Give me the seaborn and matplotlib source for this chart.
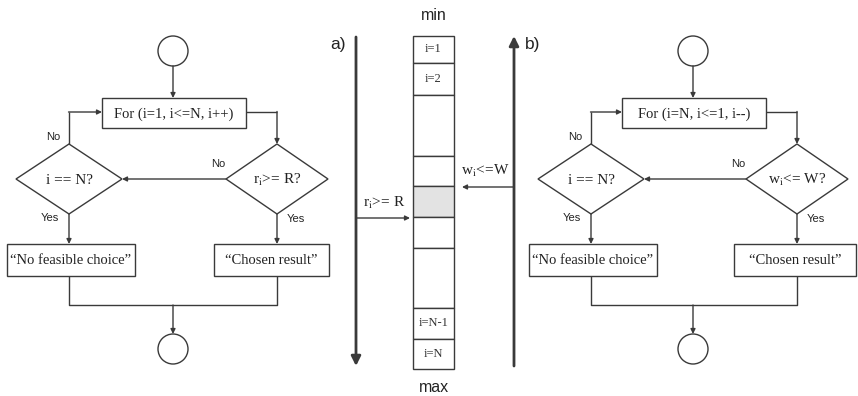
import matplotlib
matplotlib.use("Agg")
import matplotlib.pyplot as plt
import seaborn as sns
from matplotlib.patches import Rectangle, Polygon, Circle

sns.set_style("white")
plt.rcParams["font.family"] = ["Liberation Serif", "DejaVu Serif"]
plt.rcParams["mathtext.fontset"] = "stix"

# texts of the two flowcharts
loop_labels = ["For (i=1, i<=N, i++)", "For (i=N, i<=1, i--)"]
test_labels = [r"r$_\mathrm{i}$>= R?", r"w$_\mathrm{i}$<= W?"]
end_test_label = "i == N?"
fail_label = "\u201cNo feasible choice\u201d"
ok_label = "\u201cChosen result\u201d"
panel_labels = ["a)", "b)"]
arrow_labels = [r"r$_\mathrm{i}$>= R", r"w$_\mathrm{i}$<=W"]

# sorted list in the middle
cell_labels = ["i=1", "i=2", "", "", "", "", "", "i=N-1", "i=N"]
cell_edges = [36, 63, 95, 156, 186, 217, 248, 308, 339, 369]
chosen_cell = 4

ink = "#3a3a3a"
sans = ["Liberation Sans", "DejaVu Sans"]

fig = plt.figure(figsize=(8.58, 3.96), dpi=100)
ax = fig.add_axes([0, 0, 1, 1])
ax.set_xlim(0, 858)
ax.set_ylim(396, 0)
ax.axis("off")


def line(xs, ys, lw=1.0):
    ax.plot(xs, ys, color=ink, lw=lw, solid_capstyle="butt")


def arrow(x0, y0, x1, y1, lw=1.0, ms=7):
    ax.annotate("", xy=(x1, y1), xytext=(x0, y0),
                arrowprops=dict(arrowstyle="-|>", color=ink, lw=lw,
                                mutation_scale=ms, shrinkA=0, shrinkB=0))


def box(x0, x1, y0, y1, text):
    ax.add_patch(Rectangle((x0, y0), x1 - x0, y1 - y0, fill=False,
                           ec=ink, lw=1.0))
    ax.text((x0 + x1) / 2, (y0 + y1) / 2 + 1, text, ha="center",
            va="center", fontsize=10.5, color="#222222")


def diamond(cx, cy, hw, hh, text):
    ax.add_patch(Polygon([(cx, cy - hh), (cx + hw, cy), (cx, cy + hh),
                          (cx - hw, cy)], closed=True, fill=False,
                         ec=ink, lw=1.0))
    ax.text(cx, cy + 1, text, ha="center", va="center", fontsize=11,
            color="#222222")


def small(x, y, text):
    ax.text(x, y, text, ha="center", va="center", fontsize=8,
            family=sans, color="#222222")


def flowchart(dx, loop_label, test_label, ok_x1, left_cx):
    cx = 173 + dx
    dcx = 277 + dx
    ax.add_patch(Circle((cx, 51), 15, fill=False, ec=ink, lw=1.0))
    arrow(cx, 66, cx, 98)
    box(102 + dx, 246 + dx, 98, 128, loop_label)
    line([246 + dx, dcx], [112, 112])
    arrow(dcx, 111.5, dcx, 144)
    diamond(dcx, 179, 51, 35, test_label)
    diamond(left_cx, 179, 53, 35, end_test_label)
    arrow(dcx - 51, 179, left_cx + 53, 179)
    small(dcx - 59, 164, "No")
    line([left_cx, left_cx], [144, 112])
    arrow(left_cx - 0.5, 112, 102 + dx, 112)
    small(left_cx - 16, 137, "No")
    arrow(left_cx, 214, left_cx, 244)
    arrow(dcx, 214, dcx, 244)
    small(left_cx - 19, 218, "Yes")
    small(dcx + 19, 219, "Yes")
    box(left_cx - 62, left_cx + 66, 244, 276, fail_label)
    box(dcx - 63, ok_x1, 244, 276, ok_label)
    line([left_cx, left_cx, dcx, dcx], [276, 305, 305, 276])
    arrow(cx, 305, cx, 334)
    ax.add_patch(Circle((cx, 349), 15, fill=False, ec=ink, lw=1.0))


flowchart(0, loop_labels[0], test_labels[0], 329, 69)
flowchart(520, loop_labels[1], test_labels[1], 856, 591)

# the sorted column
for k, lab in enumerate(cell_labels):
    y0, y1 = cell_edges[k], cell_edges[k + 1]
    ax.add_patch(Rectangle((413, y0), 41, y1 - y0,
                           fc="#e3e3e3" if k == chosen_cell else "white",
                           ec=ink, lw=1.0))
    if lab:
        ax.text(433.5, (y0 + y1) / 2, lab, ha="center", va="center",
                fontsize=9, color="#333333")
ax.text(433.5, 15, "min", ha="center", va="center", fontsize=11.5,
        family=sans, color="#222222")
ax.text(433.5, 388, "max", ha="center", va="center", fontsize=11.5,
        family=sans, color="#222222")

# search directions
arrow(356, 37, 356, 366, lw=2.0, ms=14)
arrow(514, 366, 514, 36, lw=2.0, ms=14)
ax.text(338, 45, panel_labels[0], ha="center", va="center", fontsize=12.5,
        family=sans, color="#222222")
ax.text(533, 45, panel_labels[1], ha="center", va="center", fontsize=12.5,
        family=sans, color="#222222")
arrow(356, 218, 410, 218)
ax.text(384, 203, arrow_labels[0], ha="center", va="center", fontsize=11,
        color="#222222")
arrow(514, 187, 462, 187)
ax.text(485, 171, arrow_labels[1], ha="center", va="center", fontsize=11,
        color="#222222")

fig.savefig("out.png", dpi=100, facecolor="white")
